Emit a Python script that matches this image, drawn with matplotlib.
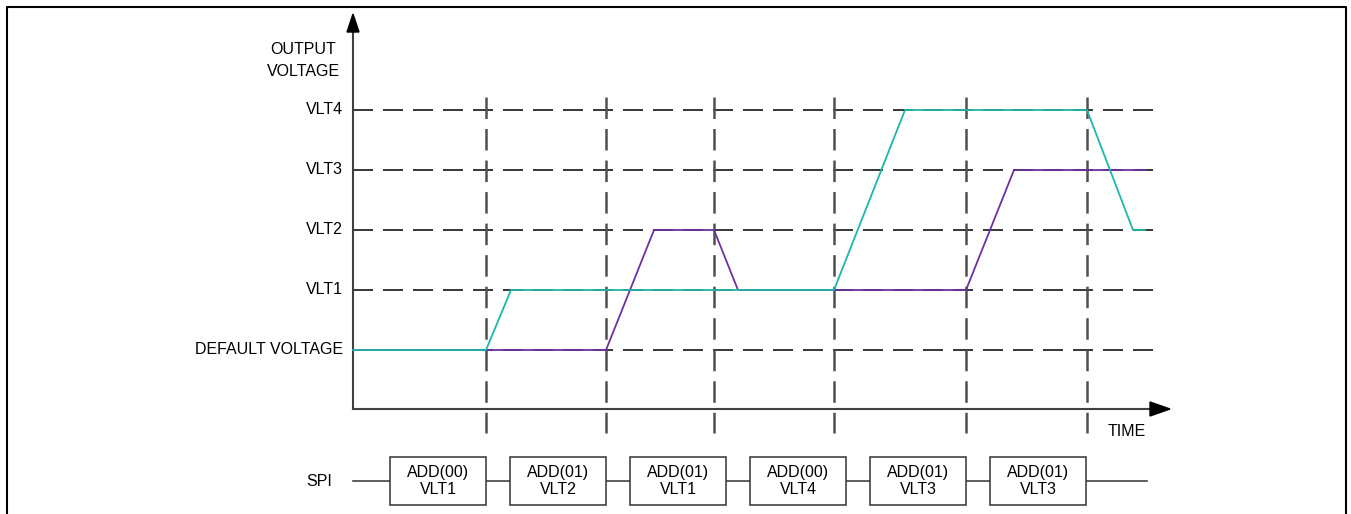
import matplotlib
matplotlib.use("Agg")
import matplotlib.pyplot as plt
from matplotlib import font_manager
from matplotlib.patches import Rectangle

# ── data ──────────────────────────────────────────────────────────
level_labels = ["DEFAULT VOLTAGE", "VLT1", "VLT2", "VLT3", "VLT4"]
level_values = [0, 1, 2, 3, 4]

# SPI command completion times (vertical dashed markers)
event_times = [133, 253, 361, 481, 613, 734]

# output voltage traces (time, level index)
cyan_t = [0, 133, 158, 481, 552, 734, 780, 792]
cyan_v = [0, 0, 1, 1, 4, 4, 2, 2]
purple_t = [0, 133, 253, 301, 361, 385, 613, 661, 792]
purple_v = [0, 0, 0, 2, 2, 1, 1, 3, 3]

# SPI frames
spi_start = [37, 157, 277, 397, 517, 637]
spi_width = 96
spi_labels = ["ADD(00)\nVLT1", "ADD(01)\nVLT2", "ADD(01)\nVLT1",
              "ADD(00)\nVLT4", "ADD(01)\nVLT3", "ADD(01)\nVLT3"]

# ── fonts ─────────────────────────────────────────────────────────
names = {f.name for f in font_manager.fontManager.ttflist}
if "Liberation Sans Narrow" in names:
    FONT, FS = "Liberation Sans Narrow", 13.4
else:
    FONT, FS = "Liberation Sans", 11.5
plt.rcParams["font.family"] = [FONT, "DejaVu Sans"]
plt.rcParams["lines.scale_dashes"] = False

CYAN = "#1fb5ae"
PURPLE = "#7030a0"

fig = plt.figure(figsize=(13.51, 5.14), dpi=100)
ax = fig.add_axes([0, 0, 1, 1])
# 1 time unit = 1 px, 1 level = 60 px
ax.set_xlim(-353, 998)
ax.set_ylim((350 - 514) / 60, 350 / 60)
ax.axis("off")

x_axis_y = (350 - 409) / 60
t_end = 817

# grid lines for levels
for v in level_values:
    ax.plot([0, 805], [v, v], color="black", lw=1.1, dashes=(14.4, 7.2), zorder=1)
    ax.text(-10, v, level_labels[v], ha="right", va="center", fontsize=FS)

# vertical event markers
for t in event_times:
    ax.plot([t, t], [(350 - 97) / 60, (350 - 433) / 60], color="#505050",
            lw=1.8, dashes=(15.5, 7.2), zorder=1)

# axes with arrow heads
ax.plot([0, 0], [x_axis_y, (350 - 30) / 60], color="#404040", lw=1.5, zorder=3)
ax.fill([-6, 6, 0], [(350 - 32) / 60, (350 - 32) / 60, (350 - 14) / 60],
        color="black", zorder=3)
ax.plot([0, t_end - 18], [x_axis_y, x_axis_y], color="#404040", lw=1.5, zorder=3)
ax.fill([t_end - 20, t_end - 20, t_end],
        [x_axis_y + 7 / 60, x_axis_y - 7 / 60, x_axis_y], color="black", zorder=3)

# traces
ax.plot(purple_t, purple_v, color=PURPLE, lw=1.3, zorder=4)
ax.plot(cyan_t, cyan_v, color=CYAN, lw=1.3, zorder=5)

ax.text(-50, (350 - 50) / 60, "OUTPUT", ha="center", va="center", fontsize=FS)
ax.text(-50, (350 - 71) / 60, "VOLTAGE", ha="center", va="center", fontsize=FS)
ax.text(774, (350 - 431) / 60, "TIME", ha="center", va="center", fontsize=FS)

# SPI row
spi_y = (350 - 481) / 60
box_top = (350 - 457) / 60
box_bot = (350 - 505) / 60
ax.plot([0, 794], [spi_y, spi_y], color="#333333", lw=1.1, zorder=1)
ax.text(-34, spi_y, "SPI", ha="center", va="center", fontsize=FS)
for s, lab in zip(spi_start, spi_labels):
    ax.add_patch(Rectangle((s, box_bot), spi_width, box_top - box_bot,
                           facecolor="white", edgecolor="#333333", lw=1.1, zorder=2))
    ax.text(s + spi_width / 2, (box_top + box_bot) / 2, lab, ha="center",
            va="center", fontsize=FS, linespacing=1.1, zorder=3)

# outer frame
W, H = 1351, 514
fx = [7 / W, 7 / W, 1346 / W, 1346 / W]
fy = [0, 1 - 7 / H, 1 - 7 / H, 0]
fig.add_artist(plt.Line2D(fx, fy, transform=fig.transFigure, color="black", lw=1.5))

fig.savefig("out.png", dpi=100)
